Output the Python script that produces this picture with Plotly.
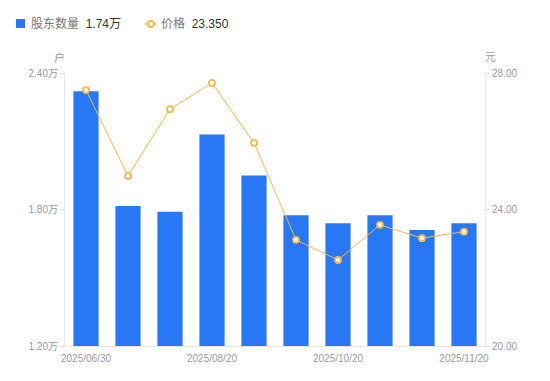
import plotly.graph_objects as go

dates = ["2025/06/30", "2025/07/10", "2025/07/31", "2025/08/20", "2025/08/31",
         "2025/09/30", "2025/10/20", "2025/10/31", "2025/11/10", "2025/11/20"]
holders = [2.32, 1.815, 1.79, 2.13, 1.95, 1.775, 1.74, 1.775, 1.71, 1.74]  # 万户
price = [27.50, 24.98, 26.94, 27.71, 25.95, 23.11, 22.52, 23.55, 23.16, 23.35]
x_ticks = ["2025/06/30", "2025/08/20", "2025/10/20", "2025/11/20"]
left_ticks = [1.20, 1.80, 2.40]
right_ticks = [20, 24, 28]

W, H = 550, 381
ML, MR, MT, MB = 65, 65, 73, 35
PW, PH = W - ML - MR, H - MT - MB

def px(x):
    return (x - ML) / PW

def py(y):
    return (H - MB - y) / PH

BLUE = "#2878f5"
ORANGE = "#f7b84b"
GRAY = "#9a9aa6"
FONT = "Liberation Sans, Arial, Noto Sans CJK SC, sans-serif"

fig = go.Figure()
fig.add_trace(go.Bar(x=dates, y=holders, marker=dict(color=BLUE, line=dict(width=0)),
                     width=0.6, name="股东数量", yaxis="y"))
fig.add_trace(go.Scatter(x=dates, y=price, mode="lines+markers", yaxis="y2", name="价格",
                         line=dict(color=ORANGE, width=1),
                         marker=dict(symbol="circle", size=6, color="white",
                                     line=dict(color=ORANGE, width=1.8))))

fig.update_layout(
    width=W, height=H, margin=dict(l=ML, r=MR, t=MT, b=MB),
    paper_bgcolor="white", plot_bgcolor="white", showlegend=False,
    font=dict(family=FONT, size=10, color=GRAY),
    xaxis=dict(type="category", range=[-0.5, len(dates) - 0.5], tickvals=x_ticks,
               ticktext=x_ticks, showgrid=False, showline=True, linecolor="#e6e6e6",
               linewidth=1, ticks="", tickfont=dict(size=10, color=GRAY), zeroline=False,
               ticklabelstandoff=3),
    yaxis=dict(range=[1.2, 2.4], tickvals=left_ticks,
               ticktext=[f"{v:.2f}万" for v in left_ticks], showgrid=False,
               showline=True, linecolor="#e6e6e6", linewidth=1, ticks="outside",
               ticklen=4, tickcolor="#e0e0e0", tickfont=dict(size=10, color=GRAY),
               zeroline=False),
    yaxis2=dict(range=[20, 28], tickvals=right_ticks,
                ticktext=[f"{v:.2f}" for v in right_ticks], overlaying="y", side="right",
                showgrid=False, showline=True, linecolor="#e6e6e6", linewidth=1,
                ticks="outside", ticklen=4, tickcolor="#e0e0e0",
                tickfont=dict(size=10, color=GRAY), zeroline=False),
    bargap=0.4,
)

# axis unit titles
fig.add_annotation(x=px(59), y=py(57), xref="paper", yref="paper", text="户",
                   xanchor="center", yanchor="middle",
                   showarrow=False, font=dict(size=11, color=GRAY, family=FONT))
fig.add_annotation(x=px(490), y=py(57), xref="paper", yref="paper", text="元",
                   xanchor="center", yanchor="middle",
                   showarrow=False, font=dict(size=11, color=GRAY, family=FONT))

# custom legend
fig.add_shape(type="rect", xref="paper", yref="paper", x0=px(16), x1=px(25),
              y0=py(28), y1=py(19), fillcolor=BLUE, line=dict(width=0))
fig.add_annotation(x=px(29), y=py(24), xref="paper", yref="paper", xanchor="left",
                   yanchor="middle",
                   text=f"股东数量  <span style='color:#333'>{holders[-1]:.2f}万</span>",
                   showarrow=False, font=dict(size=12, color="#777", family=FONT))
fig.add_shape(type="line", xref="paper", yref="paper", x0=px(145), x1=px(157),
              y0=py(24), y1=py(24), line=dict(color=ORANGE, width=1.5))
fig.add_shape(type="circle", xref="paper", yref="paper", x0=px(148), x1=px(154),
              y0=py(27), y1=py(21), fillcolor="white", line=dict(color=ORANGE, width=1.8))
fig.add_annotation(x=px(159), y=py(24), xref="paper", yref="paper", xanchor="left",
                   yanchor="middle",
                   text=f"价格  <span style='color:#333'>{price[-1]:.3f}</span>",
                   showarrow=False, font=dict(size=12, color="#777", family=FONT))

fig.write_html("out.html", config={"displayModeBar": False},
               post_script="document.body.style.margin='0';document.body.style.overflow='hidden';")
